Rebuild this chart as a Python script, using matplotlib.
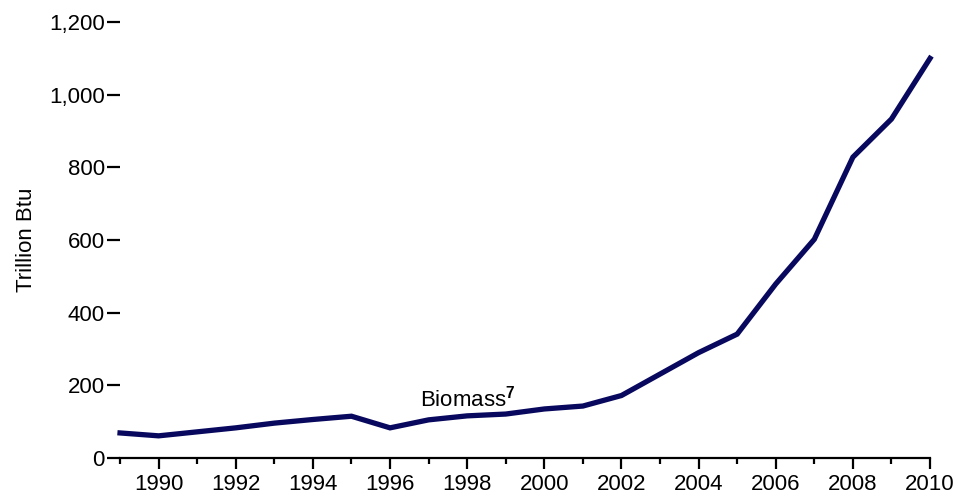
import matplotlib
matplotlib.use('Agg')
import matplotlib.pyplot as plt
from matplotlib.ticker import FuncFormatter, MultipleLocator

# 生物质能消费（万亿 Btu）
years = list(range(1989, 2011))
biomass = [69, 61, 72, 83, 96, 106, 115, 83, 105, 116, 121, 135, 143, 172,
           231, 290, 341, 479, 602, 828, 933, 1100]

LINE_COLOR = '#08085e'

plt.rcParams['font.family'] = ['Liberation Sans', 'DejaVu Sans']
plt.rcParams['mathtext.fontset'] = 'custom'
plt.rcParams['mathtext.rm'] = 'Liberation Sans'
plt.rcParams['mathtext.bf'] = 'Liberation Sans:bold'

fig = plt.figure(figsize=(9.58, 4.96), dpi=100)
ax = fig.add_axes([0.1253, 0.0766, 0.9708 - 0.1253, 0.879])

ax.plot(years, biomass, color=LINE_COLOR, linewidth=3.8, solid_joinstyle='miter',
        clip_on=False, zorder=3)

ax.set_xlim(1989, 2010)
ax.set_ylim(0, 1200)

for side in ('top', 'right', 'left'):
    ax.spines[side].set_visible(False)
ax.spines['bottom'].set_linewidth(1.6)

ax.xaxis.set_minor_locator(MultipleLocator(1))
ax.set_xticks(range(1990, 2011, 2))
ax.tick_params(axis='x', which='major', length=8, width=1.6, pad=3.5, labelsize=16)
ax.tick_params(axis='x', which='minor', length=4.5, width=1.6)

ax.set_yticks(range(0, 1201, 200))
ax.yaxis.set_major_formatter(FuncFormatter(lambda v, _: f'{v:,.0f}'))
ax.tick_params(axis='y', which='major', length=9.5, width=1.6, pad=1.5, labelsize=16)

ax.set_ylabel('Trillion Btu', fontsize=16)
ax.yaxis.set_label_coords(-0.102, 0.5)

ax.text(1996.77, 143, r'Biomass$^{\mathbf{7}}$', fontsize=16, ha='left', va='baseline')

fig.savefig('out.png', dpi=100, facecolor='white')
